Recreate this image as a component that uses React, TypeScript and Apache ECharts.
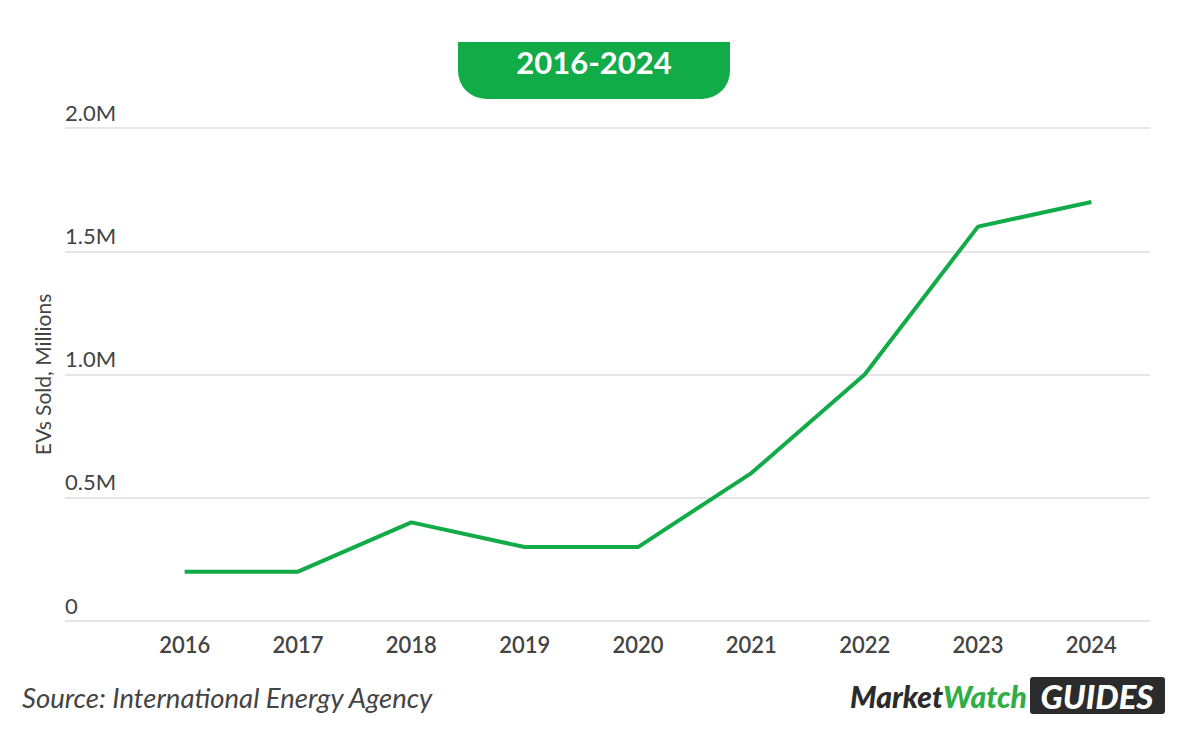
import React, { useEffect, useRef } from "react";
import * as echarts from "echarts";

const years = ["2016", "2017", "2018", "2019", "2020", "2021", "2022", "2023", "2024"];
const evSales = [0.2, 0.2, 0.4, 0.3, 0.3, 0.6, 1.0, 1.6, 1.7];
const yTickLabels: Record<string, string> = { "0": "0", "0.5": "0.5M", "1": "1.0M", "1.5": "1.5M", "2": "2.0M" };

const FONT = "Lato, 'Open Sans', sans-serif";
const GREEN = "#11ab47";
const TEXT = "#444444";

export default function App() {
  const ref = useRef<HTMLDivElement>(null);
  useEffect(() => {
    if (!ref.current) return;
    const chart = echarts.init(ref.current, null, { renderer: "svg" });
    const top = 128;
    const bottom = 755 - 621;
    chart.setOption({
      animation: false,
      backgroundColor: "#ffffff",
      textStyle: { fontFamily: FONT },
      grid: [
        { left: 65, right: 50, top, bottom },
        { left: 128, right: 52, top, bottom },
      ],
      xAxis: [
        { gridIndex: 0, type: "value", min: 0, max: 1, show: false },
        {
          gridIndex: 1,
          type: "category",
          data: years,
          boundaryGap: true,
          axisLine: { show: false },
          axisTick: { show: false },
          axisLabel: { color: TEXT, fontSize: 22, fontWeight: 600, fontFamily: FONT, margin: 12 },
        },
      ],
      yAxis: [
        {
          gridIndex: 0,
          type: "value",
          min: 0,
          max: 2,
          interval: 0.5,
          axisLine: { show: false },
          axisTick: { show: false },
          splitLine: { lineStyle: { color: "#dddddd", width: 1.5 } },
          axisLabel: {
            inside: true,
            align: "left",
            verticalAlign: "bottom",
            margin: 0,
            padding: [0, 0, 5, 0],
            color: TEXT,
            fontSize: 22,
            fontFamily: FONT,
            formatter: (v: number) => yTickLabels[String(v)] ?? "",
          },
          name: "EVs Sold, Millions",
          nameLocation: "middle",
          nameGap: 12,
          nameRotate: 90,
          nameTextStyle: { color: TEXT, fontSize: 21, fontFamily: FONT },
        },
        { gridIndex: 1, type: "value", min: 0, max: 2, interval: 0.5, show: false },
      ],
      series: [
        {
          type: "line",
          xAxisIndex: 1,
          yAxisIndex: 1,
          data: evSales,
          symbol: "none",
          lineStyle: { color: GREEN, width: 4 },
        },
      ],
      graphic: [
        {
          type: "rect",
          shape: { x: 458, y: 42, width: 272, height: 57, r: [0, 0, 28, 28] },
          style: { fill: GREEN },
        },
        {
          type: "text",
          x: 594,
          y: 62,
          style: {
            text: "2016-2024",
            fill: "#ffffff",
            font: `bold 31px ${FONT}`,
            align: "center",
            verticalAlign: "middle",
          },
        },
        {
          type: "text",
          x: 22,
          y: 697,
          style: {
            text: "Source: International Energy Agency",
            fill: TEXT,
            font: `italic 27.5px ${FONT}`,
            align: "left",
            verticalAlign: "middle",
          },
        },
        {
          type: "text",
          x: 1027,
          y: 696,
          style: {
            text: "{a|Market}{b|Watch}",
            align: "right",
            verticalAlign: "middle",
            rich: {
              a: { fill: "#2b2b2b", font: `italic 900 30px ${FONT}` },
              b: { fill: "#2fae48", font: `italic 900 30px ${FONT}` },
            },
          },
        },
        {
          type: "rect",
          shape: { x: 1030, y: 677, width: 135, height: 37, r: 3 },
          style: { fill: "#2b2b2b" },
        },
        {
          type: "text",
          x: 1097,
          y: 696,
          style: {
            text: "GUIDES",
            fill: "#ffffff",
            font: `italic 900 33px ${FONT}`,
            align: "center",
            verticalAlign: "middle",
          },
        },
      ],
    });
    return () => chart.dispose();
  }, []);
  return (
    <div
      ref={ref}
      style={{ position: "fixed", left: 0, top: 0, width: 1200, height: 755 }}
    />
  );
}
